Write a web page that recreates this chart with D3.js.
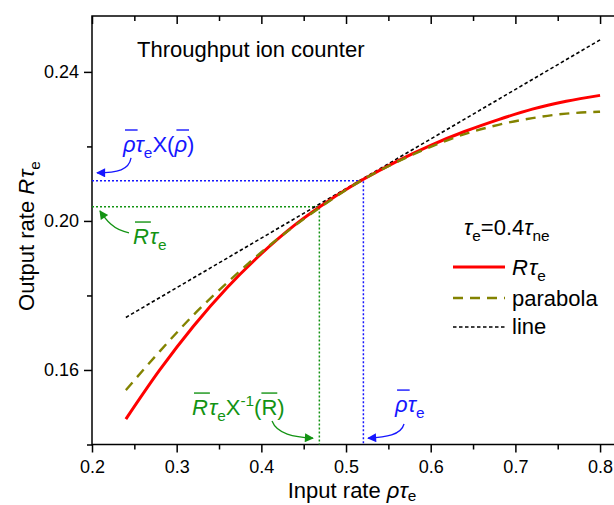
<!DOCTYPE html>
<meta charset="utf-8">
<body style="margin:0;background:#fff">
<div id="chart"></div>
</body>
<script src="https://d3js.org/d3.v7.min.js"></script>
<style>
  body { font-family: "Liberation Sans", Arial, sans-serif; }
  text { white-space: pre; }
  .tick text { font-size: 18px; font-family: "Liberation Sans", Arial, sans-serif; fill: #000; }
  .tick line { stroke: #000; stroke-width: 1.5px; }
</style>
<script>
// input rate rho*tau_e
var rhoTau = [0.24, 0.28, 0.32, 0.36, 0.40, 0.44, 0.48, 0.52, 0.56, 0.60, 0.64, 0.68, 0.72, 0.76, 0.80];
var outputRate = [0.1468, 0.1600, 0.1718, 0.1822, 0.1912, 0.1990, 0.2055, 0.2111, 0.2160, 0.2203, 0.2240, 0.2272, 0.2300, 0.2321, 0.2337];
var parabolaRate = [0.1546, 0.1650, 0.1748, 0.1835, 0.1916, 0.1988, 0.2053, 0.2111, 0.2158, 0.2199, 0.2233, 0.2258, 0.2276, 0.2288, 0.2293];
var lineRho = [0.24, 0.80];
var lineRate = [0.1741, 0.2486];

// the two marked points
var rhoBar = 0.5205, rhoBarOut = 0.2108;
var rBarIn = 0.4685, rBar = 0.2038;

var xMajor = [0.2, 0.3, 0.4, 0.5, 0.6, 0.7, 0.8];
var xMinor = [0.25, 0.35, 0.45, 0.55, 0.65, 0.75];
var yMajor = [0.16, 0.20, 0.24];
var yMinor = [0.14, 0.18, 0.22];

var W = 614, H = 505;
var blue = "#1616ff", green = "#139313", olive = "#838300";

var svg = d3.select("#chart").append("svg")
    .attr("width", W).attr("height", H);

var x = d3.scaleLinear().domain([0.2, 0.82]).range([92, 617]);
var y = d3.scaleLinear().domain([0.14, 0.255]).range([444.5, 16]);

// markers for annotation arrows
var defs = svg.append("defs");
[["arrBlue", blue], ["arrGreen", green]].forEach(function(m) {
    defs.append("marker")
        .attr("id", m[0])
        .attr("viewBox", "0 0 10 10")
        .attr("refX", 9).attr("refY", 5)
        .attr("markerWidth", 12).attr("markerHeight", 9)
        .attr("markerUnits", "userSpaceOnUse")
        .attr("orient", "auto")
      .append("path")
        .attr("d", "M0,0 L10,5 L0,10 Z")
        .attr("fill", m[1]);
});

// axes
svg.append("g").attr("transform", "translate(0," + y.range()[0] + ")")
    .call(d3.axisBottom(x).tickValues(xMajor).tickSize(8).tickPadding(8).tickFormat(d3.format(".1f")))
    .call(g => g.select(".domain").remove());
svg.append("g").attr("transform", "translate(0," + y.range()[0] + ")")
    .call(d3.axisBottom(x).tickValues(xMinor).tickSize(5).tickFormat(""))
    .call(g => g.select(".domain").remove());
svg.append("g").attr("transform", "translate(0," + y.range()[1] + ")")
    .call(d3.axisTop(x).tickValues(xMajor).tickSize(-8).tickFormat(""))
    .call(g => g.select(".domain").remove());
svg.append("g").attr("transform", "translate(0," + y.range()[1] + ")")
    .call(d3.axisTop(x).tickValues(xMinor).tickSize(-5).tickFormat(""))
    .call(g => g.select(".domain").remove());
svg.append("g").attr("transform", "translate(" + x.range()[0] + ",0)")
    .call(d3.axisLeft(y).tickValues(yMajor).tickSize(8).tickPadding(5).tickFormat(d3.format(".2f")))
    .call(g => g.select(".domain").remove());
svg.append("g").attr("transform", "translate(" + x.range()[0] + ",0)")
    .call(d3.axisLeft(y).tickValues(yMinor).tickSize(5).tickFormat(""))
    .call(g => g.select(".domain").remove());

svg.append("rect")
    .attr("x", x.range()[0]).attr("y", y.range()[1])
    .attr("width", x.range()[1] - x.range()[0])
    .attr("height", y.range()[0] - y.range()[1])
    .attr("fill", "none").attr("stroke", "#000").attr("stroke-width", 1.5);

// guide lines
function guide(xv, yv, color) {
    svg.append("path")
        .attr("d", "M" + x(0.2) + "," + y(yv) + "H" + x(xv) + "V" + y(0.14))
        .attr("fill", "none").attr("stroke", color)
        .attr("stroke-width", 1.5).attr("stroke-dasharray", "2,2");
}
guide(rBarIn, rBar, green);
guide(rhoBar, rhoBarOut, blue);

// curves
var curve = d3.line().x(d => x(d[0])).y(d => y(d[1])).curve(d3.curveMonotoneX);

svg.append("path")
    .attr("d", curve(lineRho.map((v, i) => [v, lineRate[i]])))
    .attr("fill", "none").attr("stroke", "#000")
    .attr("stroke-width", 1.6).attr("stroke-dasharray", "3.5,2.5");

svg.append("path")
    .attr("d", curve(rhoTau.map((v, i) => [v, outputRate[i]])))
    .attr("fill", "none").attr("stroke", "#ff0000").attr("stroke-width", 3);

svg.append("path")
    .attr("d", curve(rhoTau.map((v, i) => [v, parabolaRate[i]])))
    .attr("fill", "none").attr("stroke", olive)
    .attr("stroke-width", 2.4).attr("stroke-dasharray", "10,7");

// text built from pieces: italic, subscript, superscript, overbar
function richText(g, x0, y0, parts, size, color) {
    var cx = x0;
    parts.forEach(function(p) {
        var fs = (p.sub || p.sup) ? size * 0.7 : size;
        var dy = p.sub ? size * (p.subDy || 0.25) : (p.sup ? -size * 0.42 : 0);
        var t = g.append("text")
            .attr("x", cx).attr("y", y0 + dy)
            .attr("font-size", fs)
            .attr("font-style", p.it ? "italic" : "normal")
            .attr("fill", color)
            .text(p.t);
        var w = t.node().getComputedTextLength();
        if (p.bar) {
            g.append("line")
                .attr("x1", cx + (p.it ? 2 : 0)).attr("x2", cx + w + (p.it ? 2 : 0))
                .attr("y1", y0 - size * 1.0).attr("y2", y0 - size * 1.0)
                .attr("stroke", color).attr("stroke-width", 1.4);
        }
        cx += w + (p.gap || 0);
    });
    return cx - x0;
}

var fs = 22;

// title
richText(svg.append("g"), 137, 57, [{t: "Throughput ion counter"}], fs, "#000");

// axis labels
var xl = svg.append("g");
var wx = richText(xl, 0, 0, [{t: "Input rate "}, {t: "ρ", it: true}, {t: "τ", it: true}, {t: "e", sub: true, subDy: 0.15}], fs, "#000");
xl.attr("transform", "translate(" + (352 - wx / 2) + ",498)");

var yl = svg.append("g");
var wy = richText(yl, 0, 0, [{t: "Output rate "}, {t: "R", it: true, gap: 1}, {t: "τ", it: true}, {t: "e", sub: true}], fs, "#000");
yl.attr("transform", "translate(34," + (236 + wy / 2) + ") rotate(-90)");

// legend
var lg = svg.append("g");
richText(lg, 464, 235, [{t: "τ", it: true}, {t: "e", sub: true}, {t: "=0.4"}, {t: "τ", it: true}, {t: "ne", sub: true}], fs, "#000");
lg.append("line").attr("x1", 453).attr("x2", 505).attr("y1", 267).attr("y2", 267)
    .attr("stroke", "#ff0000").attr("stroke-width", 3);
richText(lg, 512, 275, [{t: "R", it: true, gap: 1}, {t: "τ", it: true}, {t: "e", sub: true}], fs, "#000");
lg.append("line").attr("x1", 453).attr("x2", 505).attr("y1", 298).attr("y2", 298)
    .attr("stroke", olive).attr("stroke-width", 2.4).attr("stroke-dasharray", "10,7");
richText(lg, 512, 306, [{t: "parabola"}], fs, "#000");
lg.append("line").attr("x1", 453).attr("x2", 505).attr("y1", 327).attr("y2", 327)
    .attr("stroke", "#000").attr("stroke-width", 1.6).attr("stroke-dasharray", "3.5,2.5");
richText(lg, 512, 334, [{t: "line"}], fs, "#000");

// annotations (anchors in data units)
var notes = [
    {at: [0.2366, 0.2185], color: blue,
     parts: [{t: "ρ", it: true, bar: true}, {t: "τ", it: true}, {t: "e", sub: true}, {t: "X"}, {t: "("}, {t: "ρ", it: true, bar: true}, {t: ")"}]},
    {at: [0.2484, 0.1938], color: green,
     parts: [{t: "R", it: true, bar: true, gap: 1}, {t: "τ", it: true}, {t: "e", sub: true}]},
    {at: [0.3181, 0.1479], color: green,
     parts: [{t: "R", it: true, bar: true, gap: 1}, {t: "τ", it: true}, {t: "e", sub: true}, {t: "X"}, {t: "-1", sup: true}, {t: "("}, {t: "R", bar: true}, {t: ")"}]},
    {at: [0.5579, 0.1487], color: blue,
     parts: [{t: "ρ", it: true, bar: true}, {t: "τ", it: true}, {t: "e", sub: true}]}
];
notes.forEach(function(n) {
    richText(svg.append("g"), x(n.at[0]), y(n.at[1]), n.parts, fs, n.color);
});

var arrows = [
    {pts: [[0.2461, 0.2169], [0.2437, 0.2137], [0.2307, 0.2129], [0.2059, 0.2129]], color: blue, m: "arrBlue"},
    {pts: [[0.2437, 0.1968], [0.2248, 0.1976], [0.2165, 0.2003], [0.2094, 0.2027]], color: green, m: "arrGreen"},
    {pts: [[0.4126, 0.1463], [0.4185, 0.1428], [0.4386, 0.1420], [0.4610, 0.1417]], color: green, m: "arrGreen"},
    {pts: [[0.5685, 0.1455], [0.5649, 0.1425], [0.5472, 0.1420], [0.5260, 0.1417]], color: blue, m: "arrBlue"}
];
arrows.forEach(function(a) {
    var p = a.pts.map(d => [x(d[0]), y(d[1])]);
    var path = d3.path();
    path.moveTo(p[0][0], p[0][1]);
    path.bezierCurveTo(p[1][0], p[1][1], p[2][0], p[2][1], p[3][0], p[3][1]);
    svg.append("path")
        .attr("d", path.toString())
        .attr("fill", "none").attr("stroke", a.color).attr("stroke-width", 1.3)
        .attr("marker-end", "url(#" + a.m + ")");
});
</script>
